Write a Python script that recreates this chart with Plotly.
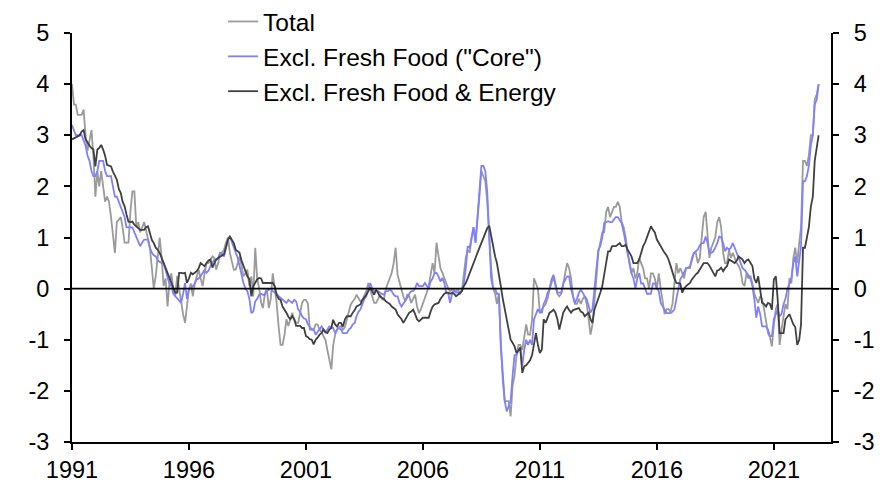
import plotly.graph_objects as go
import pandas as pd

# Japan CPI, % y/y, monthly Jan 1991 - Dec 2022 (ex. consumption tax effects)
start_month = "1991-01-01"

total = [
    4.0, 3.6, 3.6, 3.4, 3.4, 3.4, 3.5, 3.0, 2.7, 2.9, 3.1, 2.6,  # 1991
    1.8, 2.3, 2.0, 2.3, 2.0, 1.7, 1.8, 1.7, 1.4, 1.0, 0.7, 1.3,  # 1992
    1.35, 1.4, 1.2, 0.9, 0.9, 0.9, 1.5, 1.9, 1.9, 1.2, 1.3, 1.1,  # 1993
    1.2, 1.3, 1.15, 1.0, 0.8, 0.4, 0.0, 0.25, 0.7, 1.0, 0.6, 0.05,  # 1994
    0.2, -0.35, 0.1, 0.3, 0.0, -0.15, 0.25, 0.0, -0.28, -0.5, -0.67, -0.28,  # 1995
    0.0, 0.1, -0.15, 0.1, 0.24, 0.37, 0.2, 0.05, 0.3, 0.5, 0.5, 0.57,  # 1996
    0.63, 0.6, 0.37, 0.5, 0.7, 0.7, 0.76, 0.9, 1.0, 0.7, 0.5, 0.37,  # 1997
    0.37, 0.5, 0.63, 0.45, 0.24, 0.3, 0.37, 0.05, 0.24, -0.15, 0.8, 0.2,  # 1998
    0.0, -0.28, -0.38, -0.1, 0.0, -0.38, -0.2, 0.3, 0.0, -0.28, -0.74, -1.1,  # 1999
    -1.1, -0.9, -0.6, -0.73, -0.6, -0.47, -0.6, -0.67, -0.67, -0.5, -0.28, -0.22,  # 2000
    -0.22, -0.3, -0.8, -0.8, -0.8, -0.7, -0.7, -0.8, -0.85, -0.93, -1.0, -1.2,  # 2001
    -1.4, -1.58, -1.12, -0.9, -0.8, -0.75, -0.73, -0.8, -0.75, -0.6, -0.45, -0.31,  # 2002
    -0.25, -0.2, -0.12, -0.2, -0.25, -0.22, -0.15, -0.05, 0.11, 0.0, -0.15, -0.28,  # 2003
    -0.28, -0.2, -0.12, -0.2, -0.22, 0.0, 0.11, 0.2, 0.31, 0.5, 0.8, 0.27,  # 2004
    0.1, -0.02, -0.15, -0.25, -0.12, -0.15, -0.28, -0.2, -0.12, -0.35, -0.48, -0.4,  # 2005
    -0.3, -0.2, -0.08, 0.05, 0.3, 0.5, 0.3, 0.9, 0.64, 0.4, 0.31, 0.2,  # 2006
    0.11, 0.0, -0.05, -0.02, -0.02, -0.08, 0.0, -0.1, -0.05, 0.3, 0.6, 0.76,  # 2007
    0.7, 1.0, 1.2, 0.9, 1.3, 1.8, 2.3, 2.2, 2.1, 1.7, 1.0, 0.4,  # 2008
    0.0, -0.1, -0.3, -0.1, -1.1, -1.8, -2.2, -2.2, -2.2, -2.5, -1.9, -1.7,  # 2009
    -1.3, -1.1, -1.1, -1.2, -0.9, -0.7, -0.9, -0.9, -0.6, 0.2, 0.1, 0.0,  # 2010
    -0.47, -0.4, -0.35, -0.3, -0.2, -0.02, 0.1, 0.24, 0.05, -0.1, -0.15, -0.1,  # 2011
    0.1, 0.3, 0.5, 0.4, 0.2, -0.15, -0.3, -0.3, -0.2, -0.3, -0.2, -0.15,  # 2012
    -0.3, -0.6, -0.9, -0.7, -0.3, 0.2, 0.7, 0.9, 1.1, 1.1, 1.5, 1.6,  # 2013
    1.4, 1.5, 1.6, 1.6, 1.7, 1.6, 1.3, 1.2, 1.0, 0.7, 0.45, 0.3,  # 2014
    0.4, 0.2, 0.3, 0.6, 0.5, 0.4, 0.2, 0.2, 0.0, 0.3, 0.3, 0.2,  # 2015
    0.0, 0.3, 0.0, -0.3, -0.5, -0.4, -0.4, -0.45, -0.3, 0.1, 0.5, 0.3,  # 2016
    0.4, 0.3, 0.2, 0.4, 0.4, 0.4, 0.6, 0.7, 0.7, 0.5, 0.6, 1.0,  # 2017
    1.4, 1.5, 1.1, 0.6, 0.8, 0.9, 1.0, 1.3, 1.4, 1.2, 0.7, 0.5,  # 2018
    0.5, 0.76, 0.6, 0.7, 0.6, 0.5, 0.45, 0.35, 0.1, 0.05, 0.3, 0.2,  # 2019
    0.25, 0.1, -0.1, -0.2, -0.28, -0.15, -0.2, -0.4, -0.67, -0.87, -0.95, -1.13,  # 2020
    -0.7, -0.4, -0.3, -1.1, -0.8, -0.5, -0.3, -0.4, 0.2, 0.1, 0.6, 0.8,  # 2021
    0.5, 0.9, 1.2, 2.5, 2.5, 2.4, 2.6, 3.0, 3.0, 3.7, 3.8, 4.0,  # 2022
]

core = [
    3.2, 3.1, 3.0, 3.0, 3.0, 3.0, 2.9, 2.8, 2.6, 2.5, 2.3, 2.2,  # 1991
    2.2, 2.3, 2.5, 2.5, 2.5, 2.3, 2.2, 2.2, 2.2, 2.0, 1.8, 1.8,  # 1992
    1.7, 1.6, 1.5, 1.4, 1.2, 1.2, 1.2, 1.2, 1.1, 1.0, 0.9, 0.83,  # 1993
    0.9, 0.96, 0.96, 0.96, 0.8, 0.7, 0.65, 0.63, 0.55, 0.53, 0.5, 0.5,  # 1994
    0.35, 0.24, 0.1, 0.05, -0.1, -0.15, -0.2, -0.25, -0.28, -0.1, 0.11, -0.2,  # 1995
    -0.02, 0.0, 0.05, 0.1, 0.18, 0.2, 0.24, 0.3, 0.37, 0.31, 0.35, 0.44,  # 1996
    0.5, 0.57, 0.57, 0.6, 0.7, 0.68, 0.63, 0.8, 0.95, 1.02, 0.9, 0.83,  # 1997
    0.7, 0.6, 0.44, 0.25, 0.11, 0.0, -0.05, -0.2, -0.48, -0.45, -0.25, -0.2,  # 1998
    -0.12, -0.1, -0.12, -0.12, -0.05, -0.02, 0.0, -0.05, -0.08, -0.1, -0.15, -0.18,  # 1999
    -0.22, -0.25, -0.28, -0.22, -0.25, -0.28, -0.22, -0.25, -0.41, -0.45, -0.54, -0.58,  # 2000
    -0.6, -0.7, -0.74, -0.8, -0.8, -0.9, -0.85, -0.8, -0.74, -0.8, -0.87, -0.8,  # 2001
    -0.74, -0.76, -0.77, -0.87, -0.8, -0.77, -0.8, -0.87, -0.87, -0.87, -0.8, -0.77,  # 2002
    -0.7, -0.67, -0.54, -0.45, -0.41, -0.28, -0.2, -0.15, 0.0, 0.11, 0.0, -0.05,  # 2003
    -0.05, -0.05, -0.08, -0.1, -0.12, -0.05, -0.05, -0.02, -0.05, -0.12, -0.15, -0.15,  # 2004
    -0.28, -0.35, -0.3, -0.25, -0.18, -0.1, -0.05, -0.05, 0.0, 0.11, 0.05, 0.05,  # 2005
    0.05, 0.11, 0.05, 0.0, 0.14, 0.2, 0.3, 0.31, 0.24, 0.14, 0.21, 0.11,  # 2006
    -0.08, -0.1, -0.28, -0.1, -0.02, -0.08, -0.08, -0.1, -0.02, 0.1, 0.4, 0.83,  # 2007
    0.8, 1.0, 1.2, 0.9, 1.5, 1.9, 2.4, 2.4, 2.3, 1.9, 1.0, 0.2,  # 2008
    0.0, 0.0, -0.1, -0.1, -1.1, -1.7, -2.2, -2.4, -2.3, -2.2, -1.7, -1.3,  # 2009
    -1.3, -1.2, -1.2, -1.5, -1.2, -1.0, -1.1, -1.0, -1.1, -0.6, -0.5, -0.4,  # 2010
    -0.47, -0.47, -0.3, -0.22, -0.08, 0.0, 0.18, 0.27, 0.1, -0.08, -0.08, -0.08,  # 2011
    0.1, 0.18, 0.24, 0.24, 0.0, -0.15, -0.28, -0.2, -0.08, -0.02, -0.1, -0.15,  # 2012
    -0.2, -0.35, -0.47, -0.4, -0.02, 0.4, 0.76, 0.83, 1.0, 1.28, 1.3, 1.32,  # 2013
    1.3, 1.3, 1.35, 1.4, 1.4, 1.35, 1.28, 1.1, 0.9, 0.7, 0.5, 0.3,  # 2014
    0.2, 0.0, 0.2, 0.3, 0.1, 0.1, 0.0, -0.1, -0.1, -0.1, 0.1, 0.1,  # 2015
    0.0, -0.05, -0.28, -0.35, -0.41, -0.48, -0.48, -0.48, -0.45, -0.41, -0.2, -0.02,  # 2016
    0.18, 0.25, 0.31, 0.4, 0.41, 0.44, 0.55, 0.7, 0.73, 0.76, 0.85, 0.89,  # 2017
    0.89, 1.02, 0.9, 0.7, 0.7, 0.73, 0.8, 0.89, 1.02, 1.0, 0.89, 0.73,  # 2018
    0.8, 0.76, 0.8, 0.89, 0.8, 0.7, 0.6, 0.5, 0.4, 0.37, 0.31, 0.24,  # 2019
    0.2, 0.05, -0.2, -0.57, -0.35, -0.5, -0.74, -0.74, -0.74, -0.8, -0.93, -0.93,  # 2020
    -0.6, -0.5, -0.41, -0.54, -0.5, -0.3, -0.2, 0.0, 0.11, 0.2, 0.5, 0.63,  # 2021
    0.24, 0.6, 0.83, 2.1, 2.1, 2.2, 2.4, 2.8, 3.0, 3.6, 3.7, 4.0,  # 2022
]

core_core = [
    2.92, 2.94, 2.95, 2.97, 3.0, 3.07, 3.1, 2.92, 2.85, 2.8, 2.75, 2.72,  # 1991
    2.39, 2.72, 2.75, 2.81, 2.72, 2.6, 2.42, 2.4, 2.39, 2.29, 2.2, 2.13,  # 1992
    1.95, 1.87, 1.7, 1.61, 1.45, 1.31, 1.3, 1.31, 1.25, 1.22, 1.18, 1.15,  # 1993
    1.15, 1.15, 1.2, 1.22, 1.09, 0.95, 0.89, 0.8, 0.76, 0.7, 0.6, 0.5,  # 1994
    0.4, 0.31, 0.2, 0.11, 0.0, -0.08, -0.08, 0.31, 0.31, 0.3, 0.31, 0.11,  # 1995
    0.2, 0.31, 0.28, 0.31, 0.34, 0.4, 0.5, 0.47, 0.44, 0.5, 0.55, 0.57,  # 1996
    0.41, 0.5, 0.57, 0.6, 0.63, 0.65, 0.67, 0.8, 0.96, 1.02, 0.95, 0.89,  # 1997
    0.76, 0.73, 0.7, 0.55, 0.45, 0.31, 0.24, 0.18, -0.15, 0.05, 0.11, 0.18,  # 1998
    0.21, 0.2, 0.11, 0.11, 0.11, 0.11, 0.11, 0.11, 0.05, -0.12, -0.2, -0.22,  # 1999
    -0.35, -0.4, -0.47, -0.55, -0.6, -0.54, -0.6, -0.73, -0.73, -0.73, -0.77, -0.77,  # 2000
    -0.93, -0.95, -0.99, -1.0, -1.09, -1.0, -0.96, -0.9, -0.87, -0.8, -0.85, -0.87,  # 2001
    -0.8, -0.77, -0.61, -0.7, -0.74, -0.67, -0.67, -0.74, -0.6, -0.54, -0.54, -0.54,  # 2002
    -0.47, -0.42, -0.35, -0.33, -0.31, -0.22, -0.18, -0.12, -0.05, 0.02, -0.05, -0.12,  # 2003
    -0.02, -0.1, -0.15, -0.18, -0.2, -0.25, -0.28, -0.3, -0.35, -0.38, -0.41, -0.5,  # 2004
    -0.54, -0.6, -0.67, -0.6, -0.54, -0.47, -0.45, -0.41, -0.5, -0.6, -0.64, -0.6,  # 2005
    -0.57, -0.57, -0.57, -0.57, -0.45, -0.35, -0.31, -0.3, -0.28, -0.2, -0.15, -0.1,  # 2006
    -0.08, -0.08, -0.1, -0.08, -0.1, -0.15, -0.12, -0.08, -0.05, 0.05, 0.11, 0.2,  # 2007
    0.3, 0.37, 0.5, 0.6, 0.7, 0.8, 0.9, 1.02, 1.1, 1.18, 1.23, 1.02,  # 2008
    0.8, 0.63, 0.5, 0.3, 0.05, -0.2, -0.41, -0.6, -0.8, -1.0, -1.06, -1.13,  # 2009
    -1.26, -1.2, -1.15, -1.65, -1.52, -1.5, -1.45, -1.4, -1.3, -1.1, -0.87, -1.1,  # 2010
    -1.26, -1.19, -0.6, -0.67, -0.55, -0.47, -0.45, -0.41, -0.47, -0.6, -0.8, -0.6,  # 2011
    -0.47, -0.4, -0.35, -0.42, -0.47, -0.42, -0.41, -0.4, -0.38, -0.45, -0.47, -0.54,  # 2012
    -0.5, -0.47, -0.6, -0.67, -0.41, -0.3, -0.22, -0.08, 0.05, 0.3, 0.57, 0.73,  # 2013
    0.73, 0.83, 0.83, 0.83, 0.86, 0.89, 0.83, 0.83, 0.86, 0.76, 0.7, 0.63,  # 2014
    0.5, 0.5, 0.5, 0.57, 0.7, 0.83, 0.9, 1.02, 1.1, 1.22, 1.15, 1.1,  # 2015
    0.96, 0.89, 0.83, 0.76, 0.7, 0.65, 0.57, 0.45, 0.31, 0.2, 0.11, 0.11,  # 2016
    0.1, -0.08, 0.0, 0.05, 0.08, 0.11, 0.18, 0.24, 0.28, 0.31, 0.38, 0.44,  # 2017
    0.5, 0.5, 0.5, 0.45, 0.37, 0.3, 0.24, 0.35, 0.37, 0.41, 0.34, 0.4,  # 2018
    0.44, 0.57, 0.55, 0.53, 0.5, 0.55, 0.63, 0.6, 0.57, 0.5, 0.55, 0.57,  # 2019
    0.5, 0.44, 0.2, 0.11, 0.24, 0.0, -0.28, -0.3, -0.35, -0.28, -0.3, -0.41,  # 2020
    0.18, 0.24, -0.2, -0.87, -0.87, -0.87, -0.6, -0.54, -0.5, -0.6, -0.7, -0.75,  # 2021
    -1.1, -1.0, -0.7, 0.8, 0.8, 1.0, 1.2, 1.6, 1.8, 2.5, 2.8, 3.0,  # 2022
]

series_names = ["Total", 'Excl. Fresh Food ("Core")', "Excl. Fresh Food & Energy"]
series_colors = ["#9a9a9a", "#8080ff", "#404040"]
tick_years = [1991, 1996, 2001, 2006, 2011, 2016, 2021]
y_ticks = [-3, -2, -1, 0, 1, 2, 3, 4, 5]

dates = pd.date_range(start_month, periods=len(total), freq="MS")

fig = go.Figure()
for name, values, color in zip(series_names, [total, core, core_core], series_colors):
    fig.add_trace(
        go.Scatter(
            x=dates,
            y=values,
            mode="lines",
            name=name,
            line=dict(color=color, width=1.8),
        )
    )

# same data on the right-hand axis (invisible) so that axis gets drawn
fig.add_trace(
    go.Scatter(
        x=dates, y=total, yaxis="y2", mode="lines",
        line=dict(width=0), showlegend=False, hoverinfo="skip",
    )
)

# zero line on top of the series
fig.add_shape(
    type="line", xref="paper", yref="y", x0=0, x1=1, y0=0, y1=0,
    line=dict(color="black", width=1.8), layer="above",
)

tick_font = dict(family="Liberation Sans, Arial", size=23.5, color="black")
yaxis_common = dict(
    range=[-3, 5],
    tickvals=y_ticks,
    ticktext=[str(v) for v in y_ticks],
    ticks="outside",
    ticklen=6,
    tickwidth=2,
    tickcolor="black",
    showline=True,
    linecolor="black",
    linewidth=2,
    showgrid=False,
    zeroline=False,
    tickfont=tick_font,
    ticklabelstandoff=10,
)

# page body adds an 8px offset, so the figure is 8px smaller than the window
fig.update_layout(
    width=878,
    height=485,
    margin=dict(l=64, r=55, t=25, b=51, autoexpand=False),
    paper_bgcolor="white",
    plot_bgcolor="white",
    xaxis=dict(
        range=["1991-01-01", "2023-06-12"],
        tickvals=[f"{y}-01-01" for y in tick_years],
        ticktext=[str(y) for y in tick_years],
        ticks="outside",
        ticklen=6,
        tickwidth=2,
        tickcolor="black",
        showline=True,
        linecolor="black",
        linewidth=2,
        showgrid=False,
        zeroline=False,
        tickfont=tick_font,
    ),
    yaxis=dict(**yaxis_common, side="left"),
    yaxis2=dict(**yaxis_common, side="right", overlaying="y", anchor="x"),
    legend=dict(
        xref="container",
        yref="paper",
        x=0.245,
        y=1.083,
        xanchor="left",
        yanchor="top",
        bgcolor="rgba(0,0,0,0)",
        font=dict(family="Liberation Sans, Arial", size=24.5, color="black"),
        tracegroupgap=0,
    ),
    showlegend=True,
)

fig.write_html("out.html")
